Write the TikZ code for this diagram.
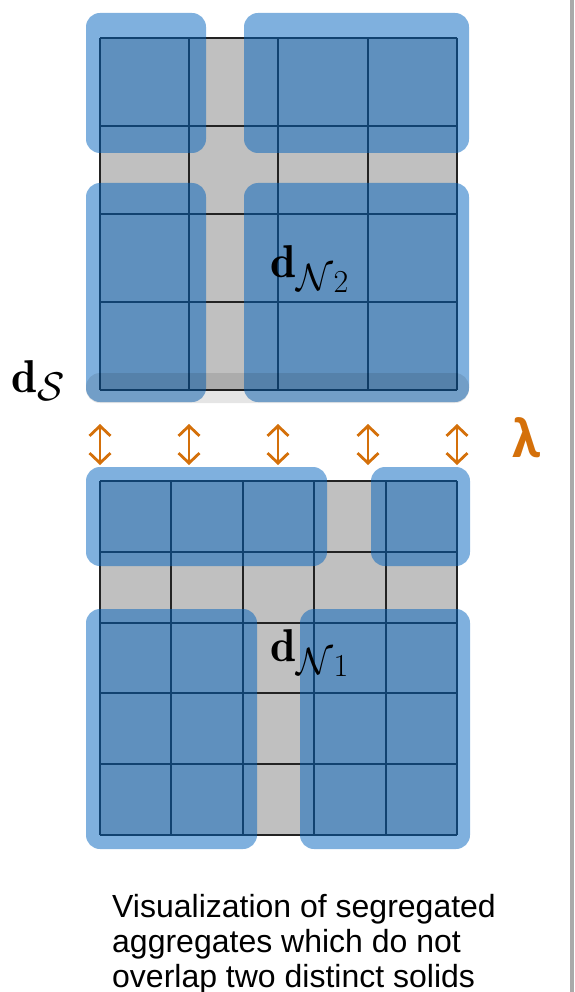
\RequirePackage{fix-cm}
\documentclass[tikz,border=0pt]{standalone}
\usepackage{fontspec}
\usetikzlibrary{arrows.meta}
\newfontfamily\capfont{Liberation Sans}
\newfontfamily\lamfont{Carlito}

\definecolor{cellgray}{RGB}{192,192,192}
\definecolor{gridink}{RGB}{35,35,35}
\definecolor{aggblue}{RGB}{0,98,190}
\definecolor{lamorange}{RGB}{212,112,10}
\definecolor{edgegray}{RGB}{170,170,170}

% bold d with a large subscript and an index below it
\newcommand{\dlabel}[2]{%
  \fontsize{46}{46}\selectfont$\mathbf{d}$\kern1pt%
  \raisebox{-13pt}{\fontsize{38}{38}\selectfont$\mathcal{#1}$}%
  \raisebox{-15pt}{\fontsize{32}{32}\selectfont #2}}

\tikzset{
  gridline/.style={draw=gridink, line width=2pt},
  aggregate/.style={fill=aggblue, fill opacity=0.5, rounded corners=14pt},
  surfband/.style={fill=black, fill opacity=0.1, rounded corners=14pt},
  gap/.style={draw=lamorange, line width=2.8pt, line cap=round,
    {Straight Barb[length=10pt,width=21pt,line width=2.8pt]}-{Straight Barb[length=10pt,width=21pt,line width=2.8pt]}},
  mathlabel/.style={inner sep=0pt, anchor=base west},
}

\begin{document}
\begin{tikzpicture}[x=1pt,y=-1pt]
\useasboundingbox (0,0) rectangle (574,992);
\fill[edgegray] (569.5,0) rectangle (574,992);

% upper solid: 4 x 4 cells
\fill[cellgray] (100,38) rectangle (457,390);
\foreach \x in {100,189,278,368,457}
  \draw[gridline] (\x,38) -- (\x,390);
\foreach \y in {38,126,214,302,390}
  \draw[gridline] (100,\y) -- (457,\y);
\fill[aggregate] (86,13) rectangle (206,153);
\fill[aggregate] (244,13) rectangle (469,153);
\fill[aggregate] (86,183) rectangle (206,402);
\fill[aggregate] (244,183) rectangle (469,402);
\fill[surfband] (86,373) rectangle (469,403);

% lower solid: 5 x 5 cells
\fill[cellgray] (100,481) rectangle (457,835);
\foreach \x in {100,171,243,314,386,457}
  \draw[gridline] (\x,481) -- (\x,835);
\foreach \y in {481,552,623,693,764,835}
  \draw[gridline] (100,\y) -- (457,\y);
\fill[aggregate] (86,467) rectangle (327,566);
\fill[aggregate] (371,467) rectangle (470,566);
\fill[aggregate] (86,609) rectangle (257,849);
\fill[aggregate] (300,609) rectangle (470,849);

% separation between the two solids
\foreach \x [count=\k] in {100,189,278,368,457} {
  \coordinate (gt\k) at (\x,424);
  \coordinate (gb\k) at (\x,465);
  \draw[gap] (gt\k) -- (gb\k);
}
\node[text=lamorange, font=\lamfont\bfseries\fontsize{58}{58}\selectfont, inner sep=0pt] (lam) at (527,438) {λ};

% labels
\node[mathlabel] (dn2) at (270,277) {\dlabel{N}{2}};
\node[mathlabel] (dn1) at (270,661) {\dlabel{N}{1}};
\node[mathlabel] (ds) at (11,392) {\fontsize{46}{46}\selectfont$\mathbf{d}$\kern1pt\raisebox{-8pt}{\fontsize{40}{40}\selectfont$\mathcal{S}$}};

\node[anchor=base west, inner sep=0pt, align=left,
  font=\capfont\fontsize{32}{35}\selectfont] (cap) at (112,987)
  {Visualization of segregated\\aggregates which do not\\overlap two distinct solids};
\end{tikzpicture}
\end{document}
